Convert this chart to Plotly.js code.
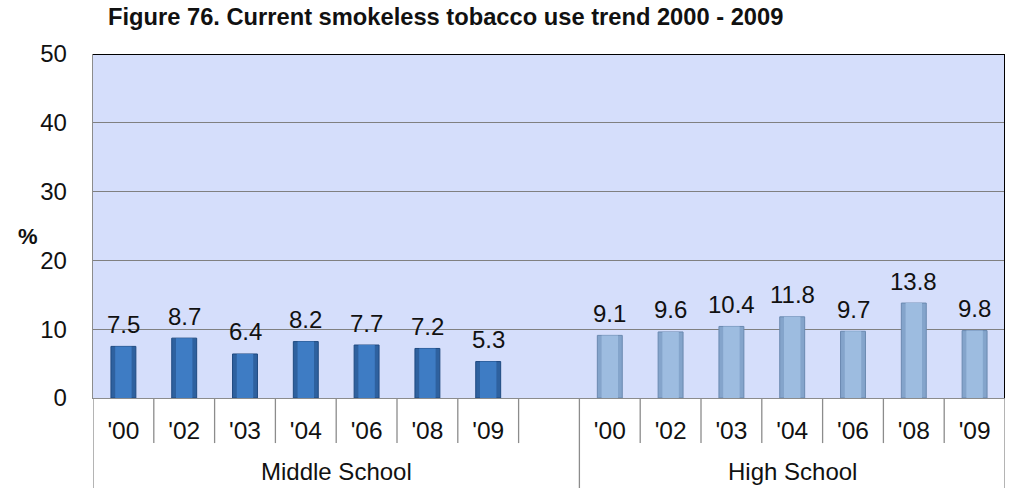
<!DOCTYPE html>
<html>
<head>
<meta charset="utf-8">
<script src="https://cdn.plot.ly/plotly-3.0.1.min.js"></script>
<style>html,body{margin:0;padding:0;background:#fff;}</style>
</head>
<body>
<div id="chart" style="width:1010px;height:488px;"></div>
<script>
const years = ["'00", "'02", "'03", "'04", "'06", "'08", "'09"];
const groups = ["Middle School", "High School"];
const middleSchool = [7.5, 8.7, 6.4, 8.2, 7.7, 7.2, 5.3];
const highSchool = [9.1, 9.6, 10.4, 11.8, 9.7, 13.8, 9.8];

// slot positions: 7 middle, 1 blank, 7 high
const xMid = years.map((_, i) => i + 1);
const xHigh = years.map((_, i) => i + 9);
const nSlots = 15;

const FONT = "Liberation Sans, Arial, sans-serif";

const traces = [
  {type: 'bar', x: xMid, y: middleSchool, width: 0.41,
   marker: {color: '#2E619F', line: {color: '#1F4A80', width: 1}}, hoverinfo: 'none'},
  {type: 'bar', x: xMid, y: middleSchool, width: 0.27,
   marker: {color: '#3E7CC4', line: {width: 0}}, hoverinfo: 'none'},
  {type: 'bar', x: xHigh, y: highSchool, width: 0.41,
   marker: {color: '#84A4CB', line: {color: '#6A89B0', width: 1}}, hoverinfo: 'none'},
  {type: 'bar', x: xHigh, y: highSchool, width: 0.27,
   marker: {color: '#9DBCE0', line: {width: 0}}, hoverinfo: 'none'}
];

const annotations = [];
xMid.forEach((x, i) => annotations.push({x: x, y: middleSchool[i], text: middleSchool[i].toFixed(1), showarrow: false, yanchor: 'middle', yshift: 22, font: {size: 24, color: '#111', family: FONT}}));
xHigh.forEach((x, i) => annotations.push({x: x, y: highSchool[i], text: highSchool[i].toFixed(1), showarrow: false, yanchor: 'middle', yshift: 22, font: {size: 24, color: '#111', family: FONT}}));
annotations.push({x: 4.5, y: -0.215, yref: 'paper', text: groups[0], showarrow: false, yanchor: 'middle', font: {size: 24, color: '#111', family: FONT}});
annotations.push({x: 12, y: -0.215, yref: 'paper', text: groups[1], showarrow: false, yanchor: 'middle', font: {size: 24, color: '#111', family: FONT}});
annotations.push({xref: 'paper', yref: 'paper', x: -0.071, y: 0.47, text: '<b>%</b>', showarrow: false, xanchor: 'center', yanchor: 'middle', font: {size: 22, color: '#111', family: FONT}});

const shapes = [];
for (let k = 1; k < nSlots; k++) {
  if (k === 8) continue;
  shapes.push({type: 'line', xref: 'x', yref: 'paper', x0: k + 0.5, x1: k + 0.5, y0: 0, y1: -0.131, line: {color: '#8c8c8c', width: 1.3}});
}
[0.5, 8.5, 15.5].forEach(x => shapes.push({type: 'line', xref: 'x', yref: 'paper', x0: x, x1: x, y0: 0, y1: -0.265, line: {color: '#8c8c8c', width: 1.3}}));
shapes.push({type: 'line', xref: 'x', yref: 'paper', x0: 15.5, x1: 15.5, y0: 0, y1: 1, line: {color: '#000', width: 2}});
shapes.push({type: 'line', xref: 'paper', yref: 'y', x0: 0, x1: 1, y0: 50, y1: 50, line: {color: '#000', width: 2}});

const layout = {
  width: 1010, height: 488,
  margin: {l: 93, r: 5, t: 54, b: 90},
  paper_bgcolor: '#ffffff', plot_bgcolor: '#D5DEFB',
  showlegend: false,
  barmode: 'overlay',
  font: {family: FONT, color: '#111'},
  title: {text: '<b>Figure 76. Current smokeless tobacco use trend 2000 - 2009</b>', xref: 'container', x: 108/1010, xanchor: 'left', y: 0.965, yanchor: 'middle', font: {size: 23.7, family: FONT, color: '#111'}},
  xaxis: {range: [0.5, nSlots + 0.5], tickvals: xMid.concat(xHigh), ticktext: years.concat(years), showgrid: false, zeroline: false, showline: true, linecolor: '#8c8c8c', linewidth: 1.3, ticks: '', ticklabelstandoff: 10, tickfont: {size: 24.5, family: FONT, color: '#111'}, fixedrange: true},
  yaxis: {range: [0, 50], dtick: 10, showgrid: true, gridcolor: '#808080', gridwidth: 1.3, zeroline: false, showline: true, linecolor: '#8c8c8c', linewidth: 1.3, ticks: '', ticklabelstandoff: 20, tickfont: {size: 24, family: FONT, color: '#111'}, fixedrange: true},
  annotations: annotations,
  shapes: shapes
};

Plotly.newPlot('chart', traces, layout, {displayModeBar: false, staticPlot: true});
</script>
</body>
</html>
